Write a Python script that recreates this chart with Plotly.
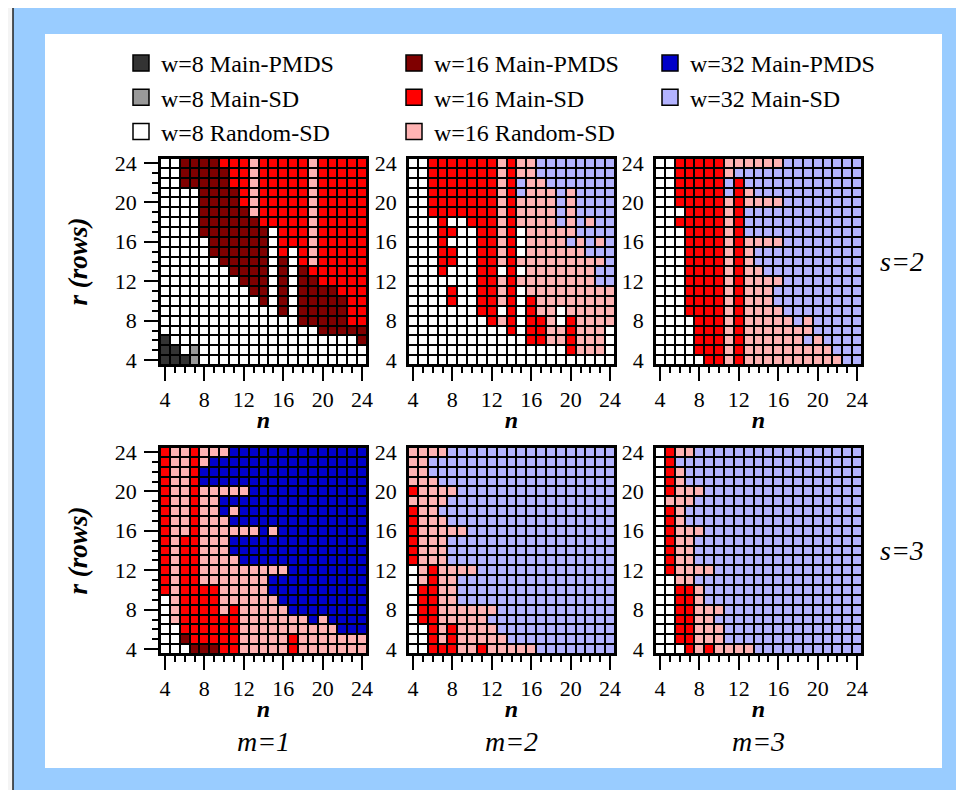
import plotly.graph_objects as go
from plotly.subplots import make_subplots

# ---------------- data ----------------
n_values = list(range(4, 25))          # columns (n)
r_values = list(range(24, 3, -1))      # rows listed top (24) to bottom (4)

category_codes = ["K", "G", "W", "M", "R", "P", "B", "L"]
category_labels = ["w=8 Main-PMDS", "w=8 Main-SD", "w=8 Random-SD",
                   "w=16 Main-PMDS", "w=16 Main-SD", "w=16 Random-SD",
                   "w=32 Main-PMDS", "w=32 Main-SD"]
category_colors = ["#333333", "#999999", "#ffffff",
                   "#7f0000", "#ff0000", "#ffb3b3",
                   "#0000c8", "#b3b3ff"]

# each string = one row (r=24 first), one character per n = 4..24
grid_s2_m1 = [
    "WWMMMMRRRPRRRRRPRRRRR",
    "WWMMMMMRRPRRRRRPRRRRR",
    "WWMMMMMRRPRRRRRPRRRRR",
    "WWWWMMMMRPRRRRRPRRRRR",
    "WWWWMMMMRPRRRRRPRRRRR",
    "WWWWMMMMMPRRRRRPRRRRR",
    "WWWWMMMMMMRRRRRPRRRRR",
    "WWWWMMMMMMMWRRRPRRRRR",
    "WWWWWMMMMMMWRRRPRRRRR",
    "WWWWWMMMMMMWRWRPRRRRR",
    "WWWWWWMMMMMWMWRPRRRRR",
    "WWWWWWWMMMMWMWMRRRRRR",
    "WWWWWWWWMMMWMWMMRRRRR",
    "WWWWWWWWWMMWMWMMMMRRR",
    "WWWWWWWWWWMWMWMMMMMRR",
    "WWWWWWWWWWWWMWMMMMMRR",
    "WWWWWWWWWWWWWWMMMMMRR",
    "WWWWWWWWWWWWWWWWMMMMM",
    "KWWWWWWWWWWWWWWWWWWWM",
    "KKWGWWWWWWWWWWWWWWWWW",
    "KKKGWWWWWWWWWWWWWWWWW",
]
grid_s2_m2 = [
    "WWRRRRRRRPRPPLLLLLLLL",
    "WWRRRRRRRPRPPLLLLLLLL",
    "WWRRRRRRRPRLPPLLLLLLL",
    "WWRRRRRRRPRLPPPLPLLLL",
    "WWRRRRRRRPRPPPPLPLLLL",
    "WWRRRRRRRPRPPPPLPLLLL",
    "WWWRWWRRRPRPPPPLPLPLL",
    "WWWRRWWRRPRWPPPPPLLLL",
    "WWWRWWWRRPRWPPPPLPLPL",
    "WWWRRWWRRPRWPPPPPPLLL",
    "WWWRRWWRRPRPPPPPPPPPL",
    "WWWRWWWRRWRWPPPPPPPLL",
    "WWWWWWWRRPRPPPPPPPPLL",
    "WWWWRWWRRPRWPPPPPPPPP",
    "WWWWRWWRRPRWRPPPPPPPP",
    "WWWWWWWRRWRWRPPWPPPPP",
    "WWWWWWWWRPRWRRPWRPPPP",
    "WWWWWWWWWWRWRRPPRPPPW",
    "WWWWWWWWWWWWRRPPRPPPW",
    "WWWWWWWWWWWWWWWWRPPPW",
    "WWWWWWWWWWWWWWWWWWWWW",
]
grid_s2_m3 = [
    "WWRRRRRPPPPPPLLLLLLLL",
    "WWRRRRRPLLLLLLLLLLLLL",
    "WWRRRRRLRLLLLLLLLLLLL",
    "WWRRRRRLRPLLLLLLLLLLL",
    "WWRRRRRPRPPPPLLLLLLLL",
    "WWWRRRRPRLLLLLLLLLLLL",
    "WWRRRRRPRLLLLLLLLLLLL",
    "WWWRRRRPRLLLLLLLLLLLL",
    "WWWRRRRPRPPPPLLLLLLLL",
    "WWWRRRRPRPLLLLLLLLLLL",
    "WWWRRRRPRPLLLLLLLLLLL",
    "WWWRRRRPRPPLLLLLLLLLL",
    "WWWRRRRPRPPPPLLLLLLLL",
    "WWWRRRRPRPPPLLLLLLLLL",
    "WWWRRRRPRPPPLLLLLLLLL",
    "WWWRRRRPRPPPPLLLLLLLL",
    "WWWWRRRPRPPPPPLPLLLLL",
    "WWWWRRRPRPPPPPPPLLLLL",
    "WWWWRRRPRPPPPPPLPLLLL",
    "WWWWRRRPRPPPPPPPPPLLL",
    "WWWWWRRPRPPPPPPPPPPLL",
]
grid_s3_m1 = [
    "RPPRPPPBBBBBBBBBBBBBB",
    "RPPRPBBBBBBBBBBBBBBBB",
    "RPPRBBBBBBBBBBBBBBBBB",
    "RPPRBBBBBBBBBBBBBBBBB",
    "RPPRPPPPPBBBBBBBBBBBB",
    "RPPRPPBBBBBBBBBBBBBBB",
    "RPPRPPBPBBBBBBBBBBBBB",
    "RPPRPPPBBBBBBBBBBBBBB",
    "RPPRPPPPPPBPBBBBBBBBB",
    "RPRRPPPBBBBBBBBBBBBBB",
    "RPRRPPPBBBBBBBBBBBBBB",
    "RPRRPPPPBBBBBBBBBBBBB",
    "RPRRPPPPPPPPPBBBBBBBB",
    "RPRRPPPPPPPBBBBBBBBBB",
    "RPRRRRPPPPPBBBBBBBBBB",
    "WPRRRRPPPPPPBBBBBBBBB",
    "WPRRRRPRPPPPPBBBBBBBB",
    "WPRRRRRRPPPPPPPBPBBBB",
    "WWRRRRRRPPPPPPPPPPBBB",
    "WWMRRRRRPPPPPRPPPPPPP",
    "WWWMMMRRPPPPPRPPPPPPP",
]
grid_s3_m2 = [
    "PPPPLLLLLLLLLLLLLLLLL",
    "PPLLLLLLLLLLLLLLLLLLL",
    "PPLLLLLLLLLLLLLLLLLLL",
    "PPPLLLLLLLLLLLLLLLLLL",
    "RPPPPLLLLLLLLLLLLLLLL",
    "PPPPLLLLLLLLLLLLLLLLL",
    "RPPLLLLLLLLLLLLLLLLLL",
    "RPPPLLLLLLLLLLLLLLLLL",
    "RPPPPPLLLLLLLLLLLLLLL",
    "RPPPLLLLLLLLLLLLLLLLL",
    "RPPPLLLLLLLLLLLLLLLLL",
    "RPPPLLLLLLLLLLLLLLLLL",
    "WPRPPPPLLLLLLLLLLLLLL",
    "WPRPPLLLLLLLLLLLLLLLL",
    "WRRPPLLLLLLLLLLLLLLLL",
    "WRRPPLLLLLLLLLLLLLLLL",
    "WRRPPPPPPLLLLLLLLLLLL",
    "WRRPPPPPLLLLLLLLLLLLL",
    "WWRPRPPPPLLLLLLLLLLLL",
    "WWRPRPPPPPLLLLLLLLLLL",
    "WWRRRPPRPPPPPLLLLLLLL",
]
grid_s3_m3 = [
    "WRPPLLLLLLLLLLLLLLLLL",
    "WRLLLLLLLLLLLLLLLLLLL",
    "WRPLLLLLLLLLLLLLLLLLL",
    "WRPLLLLLLLLLLLLLLLLLL",
    "WRPPPLLLLLLLLLLLLLLLL",
    "WPPPLLLLLLLLLLLLLLLLL",
    "WRPLLLLLLLLLLLLLLLLLL",
    "WRPLLLLLLLLLLLLLLLLLL",
    "WRPPPLLLLLLLLLLLLLLLL",
    "WRPPLLLLLLLLLLLLLLLLL",
    "WRPPLLLLLLLLLLLLLLLLL",
    "WRPPLLLLLLLLLLLLLLLLL",
    "WRPPPPLLLLLLLLLLLLLLL",
    "WWPPLLLLLLLLLLLLLLLLL",
    "WWRRPLLLLLLLLLLLLLLLL",
    "WWRRPLLLLLLLLLLLLLLLL",
    "WWRRPPPLLLLLLLLLLLLLL",
    "WWRRPPLLLLLLLLLLLLLLL",
    "WWRRPPPLLLLLLLLLLLLLL",
    "WWRRPPPLLLLLLLLLLLLLL",
    "WWWRPRPPPPLLLLLLLLLLL",
]

panel_grids = [[grid_s2_m1, grid_s2_m2, grid_s2_m3],
               [grid_s3_m1, grid_s3_m2, grid_s3_m3]]
row_labels = ["s=2", "s=3"]
col_labels = ["m=1", "m=2", "m=3"]
tick_values = [4, 8, 12, 16, 20, 24]

# ---------------- figure ----------------
W, H = 964, 790
OFF = 8  # page offset of the plot inside the browser window
FONT = "Liberation Serif, Times New Roman, serif"

def px_x(v):
    return (v - OFF) / W

def px_y(v):
    return 1 - (v - OFF) / H

code_index = {c: i for i, c in enumerate(category_codes)}
ncat = len(category_codes)
colorscale = []
for i, c in enumerate(category_colors):
    colorscale.append([i / ncat, c])
    colorscale.append([(i + 1) / ncat, c])

fig = make_subplots(rows=2, cols=3)

col_px = [(160, 367), (408, 615), (655, 862)]
row_px = [(158, 365), (447, 654)]

shapes = [
    # light blue frame with thin dark edge
    dict(type="rect", xref="paper", yref="paper", layer="below",
         x0=px_x(13), x1=px_x(W + 40), y0=px_y(5), y1=px_y(H + 40),
         fillcolor="#99ccff", line=dict(color="#222222", width=1.5)),
    # white inner sheet
    dict(type="rect", xref="paper", yref="paper", layer="below",
         x0=px_x(45), x1=px_x(942), y0=px_y(34), y1=px_y(768),
         fillcolor="#ffffff", line=dict(width=0)),
]

for ri in range(2):
    for ci in range(3):
        grid = panel_grids[ri][ci]
        z = [[code_index[ch] for ch in row] for row in grid]
        text = [[category_labels[code_index[ch]] for ch in row] for row in grid]
        fig.add_trace(go.Heatmap(
            x=n_values, y=r_values, z=z, text=text,
            colorscale=colorscale, zmin=-0.5, zmax=ncat - 0.5,
            showscale=False, xgap=2, ygap=2,
            hovertemplate="n=%{x}<br>r=%{y}<br>%{text}<extra></extra>",
        ), row=ri + 1, col=ci + 1)
        k = ri * 3 + ci + 1
        sfx = "" if k == 1 else str(k)
        shapes.append(dict(type="rect", xref="x" + sfx, yref="y" + sfx, layer="below",
                           x0=3.5, x1=24.5, y0=3.5, y1=24.5,
                           fillcolor="black", line=dict(width=0)))
        axis_common = dict(
            range=[3.5, 24.5], tickvals=tick_values,
            showline=True, linecolor="black", linewidth=1.5, mirror=True,
            showgrid=False, zeroline=False, automargin=False,
            tickfont=dict(family=FONT, size=22, color="black"),
        )
        tick_style = dict(
            ticks="outside", ticklen=14, tickwidth=1.5, tickcolor="black",
            minor=dict(tickvals=n_values, ticks="outside", ticklen=6,
                       tickwidth=1.5, tickcolor="black"),
        )
        fig.update_xaxes(
            domain=[px_x(col_px[ci][0]), px_x(col_px[ci][1])],
            title=dict(text="<b><i>n</i></b>", standoff=0,
                       font=dict(family=FONT, size=24, color="black")),
            **tick_style, **axis_common, row=ri + 1, col=ci + 1)
        if ci == 0:
            fig.update_yaxes(
                domain=[px_y(row_px[ri][1]), px_y(row_px[ri][0])],
                title=dict(text="<b><i>r (rows)</i></b>", standoff=19,
                           font=dict(family=FONT, size=27, color="black")),
                ticklabelstandoff=3,
                **tick_style, **axis_common, row=ri + 1, col=ci + 1)
        else:
            fig.update_yaxes(
                domain=[px_y(row_px[ri][1]), px_y(row_px[ri][0])],
                ticks="", ticklabelstandoff=5,
                **axis_common, row=ri + 1, col=ci + 1)

# legend entries (three columns = three legends)
legend_for = ["legend", "legend", "legend", "legend2", "legend2", "legend2", "legend3", "legend3"]
for i, (lab, col) in enumerate(zip(category_labels, category_colors)):
    fig.add_trace(go.Scatter(
        x=[None], y=[None], mode="markers", name=lab,
        marker=dict(symbol="square", size=16, color=col,
                    line=dict(color="black", width=1.5)),
        legend=legend_for[i], legendgroup=lab, showlegend=True,
        hoverinfo="skip"))

legend_style = dict(
    orientation="v", xanchor="left", yanchor="top", y=px_y(41),
    bgcolor="rgba(0,0,0,0)", borderwidth=0, tracegroupgap=0,
    font=dict(family=FONT, size=24, color="black"), itemclick=False,
)
annotations = []
for ri, lab in enumerate(row_labels):
    annotations.append(dict(
        text="<i>%s</i>" % lab, xref="paper", yref="paper",
        x=px_x(902), y=px_y((row_px[ri][0] + row_px[ri][1]) / 2),
        showarrow=False, xanchor="center", yanchor="middle",
        font=dict(family=FONT, size=28, color="black")))
for ci, lab in enumerate(col_labels):
    annotations.append(dict(
        text="<i>%s</i>" % lab, xref="paper", yref="paper",
        x=px_x((col_px[ci][0] + col_px[ci][1]) / 2), y=px_y(741),
        showarrow=False, xanchor="center", yanchor="middle",
        font=dict(family=FONT, size=28, color="black")))

fig.update_layout(
    width=W, height=H,
    margin=dict(l=0, r=0, t=0, b=0),
    paper_bgcolor="#f4f4f4", plot_bgcolor="black",
    shapes=shapes, annotations=annotations,
    legend=dict(x=px_x(121), **legend_style),
    legend2=dict(x=px_x(394), **legend_style),
    legend3=dict(x=px_x(650), **legend_style),
    font=dict(family=FONT, color="black"),
)

fig.write_html("out.html")
